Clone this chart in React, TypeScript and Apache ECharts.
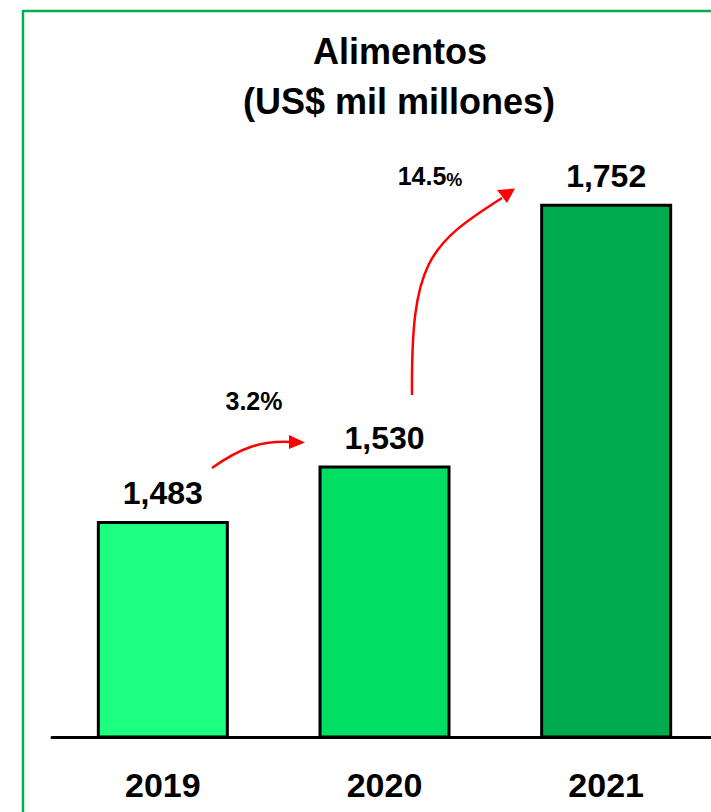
import React, { useEffect, useRef } from "react";
import * as echarts from "echarts";

const years = ["2019", "2020", "2021"];
const values = [1483, 1530, 1752];
const barColors = ["#1CFF80", "#00DE64", "#00AB4E"];
const growthLabels = ["3.2", "14.5"];
const titleLines = ["Alimentos", "(US$ mil millones)"];

const FONT = "'Liberation Sans', Arial, sans-serif";

export default function App() {
  const ref = useRef<HTMLDivElement>(null);

  useEffect(() => {
    if (!ref.current) return;
    const chart = echarts.init(ref.current, undefined, { renderer: "svg" });

    const red = "#FF0000";
    const option: any = {
      animation: false,
      backgroundColor: "#ffffff",
      grid: { left: 52, right: 3, top: 29, bottom: 75, containLabel: false },
      xAxis: {
        type: "category",
        data: years,
        axisLine: { show: true, lineStyle: { color: "#000000", width: 3 } },
        axisTick: { show: false },
        axisLabel: {
          color: "#000000",
          fontSize: 34,
          fontWeight: "bold",
          fontFamily: FONT,
          margin: 31,
        },
      },
      yAxis: {
        type: "value",
        min: 1300,
        max: 1900,
        show: false,
        splitLine: { show: false },
      },
      series: [
        {
          type: "bar",
          barWidth: 132,
          data: values.map((v, i) => ({
            value: v,
            itemStyle: { color: barColors[i], borderColor: "#000000", borderWidth: 3 },
          })),
          label: {
            show: true,
            position: "top",
            distance: 12,
            color: "#000000",
            fontSize: 32,
            fontWeight: "bold",
            fontFamily: FONT,
            formatter: (p: any) => Number(p.value).toLocaleString("en-US"),
          },
          z: 1,
        },
      ],
      graphic: [
        {
          type: "rect",
          silent: true,
          shape: { x: 23, y: 11, width: 900, height: 1000 },
          style: { fill: "none", stroke: "#00B050", lineWidth: 2.5 },
          z: 0,
        },
        {
          type: "text",
          x: 400,
          y: 51,
          style: {
            text: titleLines[0],
            fill: "#000000",
            font: `bold 36px ${FONT}`,
            textAlign: "center",
            textVerticalAlign: "middle",
          },
        },
        {
          type: "text",
          x: 399,
          y: 101,
          style: {
            text: titleLines[1],
            fill: "#000000",
            font: `bold 36px ${FONT}`,
            textAlign: "center",
            textVerticalAlign: "middle",
          },
        },
        {
          type: "text",
          x: 254,
          y: 401,
          style: {
            text: growthLabels[0] + "%",
            fill: "#000000",
            font: `bold 25px ${FONT}`,
            textAlign: "center",
            textVerticalAlign: "middle",
          },
        },
        {
          type: "text",
          x: 430,
          y: 176,
          style: {
            text: "{a|" + growthLabels[1] + "}{b|%}",
            textAlign: "center",
            textVerticalAlign: "middle",
            rich: {
              a: { fontSize: 25, fontWeight: "bold", fontFamily: FONT, fill: "#000000", verticalAlign: "bottom" },
              b: { fontSize: 18, fontWeight: "bold", fontFamily: FONT, fill: "#000000", verticalAlign: "bottom" },
            },
          },
        },
        {
          type: "bezierCurve",
          silent: true,
          shape: { x1: 212, y1: 468, cpx1: 240, cpy1: 448, cpx2: 262, cpy2: 440, x2: 292, y2: 442 },
          style: { stroke: red, lineWidth: 2.5, fill: "none" },
        },
        {
          type: "polygon",
          silent: true,
          shape: { points: [[305, 442.5], [289, 435], [289, 449]] },
          style: { fill: red },
        },
        {
          type: "bezierCurve",
          silent: true,
          shape: { x1: 412, y1: 395, cpx1: 411, cpy1: 262, cpx2: 428, cpy2: 245, x2: 502, y2: 198 },
          style: { stroke: red, lineWidth: 2.5, fill: "none" },
        },
        {
          type: "polygon",
          silent: true,
          shape: { points: [[515, 188.5], [497, 190], [507, 203]] },
          style: { fill: red },
        },
      ],
    };

    chart.setOption(option);
    return () => chart.dispose();
  }, []);

  return (
    <div
      style={{
        position: "absolute",
        left: 0,
        top: 0,
        width: 711,
        height: 812,
        overflow: "hidden",
      }}
    >
      <div ref={ref} style={{ width: 720, height: 812 }} />
    </div>
  );
}
